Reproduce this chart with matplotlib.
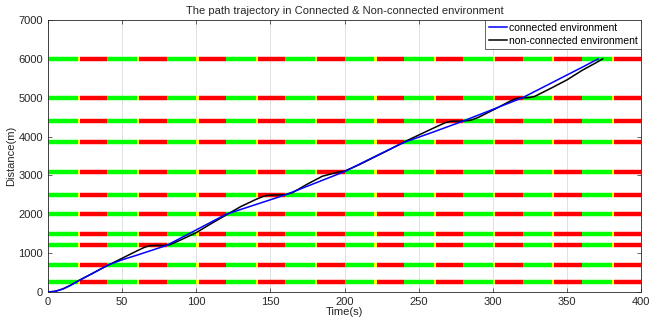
import matplotlib
matplotlib.use("Agg")
import matplotlib.pyplot as plt
import numpy as np

plt.rcParams['font.family'] = ['Liberation Sans', 'DejaVu Sans']

# Signal positions (m) and timing (s)
signal_positions = [250, 700, 1200, 1500, 2000, 2500, 3100, 3850, 4400, 5000, 6000]
cycle_length = 40
green_time = 20
yellow_time = 1.5
t_end = 400

# Connected environment trajectory
conn_t = [0, 5, 10, 15, 20, 30, 40, 50, 60, 70, 80, 90, 100, 110, 120,
          140, 160, 180, 200, 220, 240, 260, 280, 300, 320, 340, 360, 371]
conn_d = [0, 20, 80, 170, 280, 480, 690, 830, 950, 1075, 1200, 1400, 1600, 1800, 2000,
          2250, 2500, 2800, 3100, 3480, 3850, 4120, 4400, 4700, 5000, 5390, 5780, 6000]

# Non-connected environment trajectory
nc_t = [0, 5, 10, 15, 20, 30, 40, 50, 60, 65, 68, 72, 78, 82, 90, 100, 110, 120,
        130, 140, 145, 148, 155, 160, 165, 175, 185, 195, 200, 210, 220, 230, 240,
        250, 260, 268, 272, 280, 285, 290, 300, 310, 315, 318, 324, 328, 340, 350,
        360, 370, 374]
nc_d = [0, 20, 80, 170, 280, 480, 680, 870, 1060, 1150, 1190, 1200, 1200, 1215, 1350,
        1530, 1760, 1980, 2200, 2380, 2460, 2490, 2500, 2505, 2560, 2780, 2980, 3080,
        3110, 3280, 3470, 3660, 3860, 4040, 4220, 4360, 4395, 4400, 4420, 4490, 4680,
        4880, 4970, 4995, 5000, 5030, 5260, 5460, 5700, 5910, 6000]

fig = plt.figure(figsize=(6.49, 3.22), dpi=100)
ax = fig.add_axes([0.074, 0.093, 0.914, 0.845])

# Signal lines
starts = np.arange(0, t_end, cycle_length)
for y in signal_positions:
    for s in starts:
        ax.plot([s, s + green_time], [y, y], color=(0.0, 1.0, 0.0), lw=3.2,
                solid_capstyle='butt', zorder=2)
        ax.plot([s + green_time, s + green_time + yellow_time], [y, y],
                color=(1.0, 1.0, 0.0), lw=3.2, solid_capstyle='butt', zorder=2)
        ax.plot([s + green_time + yellow_time, s + cycle_length], [y, y],
                color=(1.0, 0.0, 0.0), lw=3.2, solid_capstyle='butt', zorder=2)

ax.plot(conn_t, conn_d, color='#0000ff', lw=1.1, label='connected environment', zorder=4)
ax.plot(nc_t, nc_d, color='black', lw=1.1, label='non-connected environment', zorder=3)

ax.set_xlim(0, 400)
ax.set_ylim(0, 7000)
ax.set_xticks(np.arange(0, 401, 50))
ax.set_yticks(np.arange(0, 7001, 1000))
ax.tick_params(direction='in', top=True, right=True, labelsize=8, colors='#262626',
               length=3, width=0.5)
ax.grid(axis='x', color='#dcdcdc', lw=0.6)
ax.set_axisbelow(True)
for sp in ax.spines.values():
    sp.set_color('#262626')
    sp.set_linewidth(0.6)

ax.set_xlabel('Time(s)', fontsize=8, labelpad=0, color='#262626')
ax.set_ylabel('Distance(m)', fontsize=8, labelpad=2, color='#262626')
ax.set_title('The path trajectory in Connected & Non-connected environment',
             fontsize=8, pad=4, color='#262626')

leg = ax.legend(loc='upper right', fontsize=7.5, frameon=True, fancybox=False,
                borderpad=0.3, handlelength=1.8, handletextpad=0.2,
                labelspacing=0.25, borderaxespad=0.0)
leg.get_frame().set_edgecolor('#262626')
leg.get_frame().set_linewidth(0.5)
leg.get_frame().set_alpha(1)

fig.savefig('out.png', dpi=100)
